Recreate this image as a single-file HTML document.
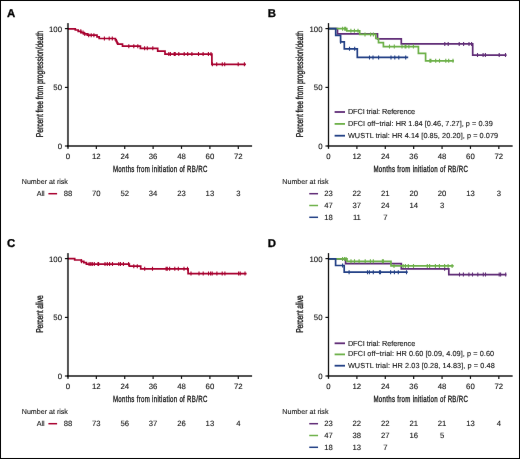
<!DOCTYPE html><html><head><meta charset="utf-8"><style>html,body{margin:0;padding:0;background:#fff;}svg{display:block;will-change:transform;text-rendering:geometricPrecision;}text{stroke:#111;stroke-width:0.1px;}text.c{stroke-width:0.3px;}</style></head><body>
<svg width="520" height="459" viewBox="0 0 520 459" font-family='"Liberation Sans", sans-serif' fill="#111">
<defs><filter id="bl" x="0" y="0" width="520" height="459" filterUnits="userSpaceOnUse" color-interpolation-filters="sRGB"><feConvolveMatrix order="3" kernelMatrix="0.0009 0.0278 0.0009 0.0278 0.8855 0.0278 0.0009 0.0278 0.0009" edgeMode="duplicate"/></filter></defs>
<g filter="url(#bl)">
<rect x="0" y="0" width="520" height="459" fill="#fff"/>
<text x="6.9" y="16.6" font-size="11.4" font-weight="bold" fill="#000" style="stroke:#000;stroke-width:0.3px">A</text>
<text x="267.8" y="16.6" font-size="11.4" font-weight="bold" fill="#000" style="stroke:#000;stroke-width:0.3px">B</text>
<text x="6.9" y="246.6" font-size="11.4" font-weight="bold" fill="#000" style="stroke:#000;stroke-width:0.3px">C</text>
<text x="267.7" y="246.6" font-size="11.4" font-weight="bold" fill="#000" style="stroke:#000;stroke-width:0.3px">D</text>
<line x1="66.95" y1="145.95" x2="252.1" y2="145.95" stroke="#000" stroke-opacity="0.68" stroke-width="2"/>
<line x1="64.9" y1="28.6" x2="67.95" y2="28.6" stroke="#111" stroke-width="1.2"/>
<line x1="64.9" y1="87.4" x2="67.95" y2="87.4" stroke="#111" stroke-width="1.2"/>
<line x1="64.9" y1="146.0" x2="67.95" y2="146.0" stroke="#111" stroke-width="1.2"/>
<line x1="96.34" y1="145.95" x2="96.34" y2="148.9" stroke="#111" stroke-width="1.2"/>
<line x1="124.73" y1="145.95" x2="124.73" y2="148.9" stroke="#111" stroke-width="1.2"/>
<line x1="153.12" y1="145.95" x2="153.12" y2="148.9" stroke="#111" stroke-width="1.2"/>
<line x1="181.51" y1="145.95" x2="181.51" y2="148.9" stroke="#111" stroke-width="1.2"/>
<line x1="209.90" y1="145.95" x2="209.90" y2="148.9" stroke="#111" stroke-width="1.2"/>
<line x1="238.29" y1="145.95" x2="238.29" y2="148.9" stroke="#111" stroke-width="1.2"/>
<text x="62.0" y="31.80" text-anchor="end" font-size="7.8">100</text>
<text x="62.0" y="90.00" text-anchor="end" font-size="7.8">50</text>
<text x="62.0" y="148.60" text-anchor="end" font-size="7.8">0</text>
<text x="67.95" y="158.6" text-anchor="middle" font-size="7.8">0</text>
<text x="96.34" y="158.6" text-anchor="middle" font-size="7.8">12</text>
<text x="124.73" y="158.6" text-anchor="middle" font-size="7.8">24</text>
<text x="153.12" y="158.6" text-anchor="middle" font-size="7.8">36</text>
<text x="181.51" y="158.6" text-anchor="middle" font-size="7.8">48</text>
<text x="209.90" y="158.6" text-anchor="middle" font-size="7.8">60</text>
<text x="238.29" y="158.6" text-anchor="middle" font-size="7.8">72</text>
<text transform="translate(160.1 171.8) scale(0.68 1)" text-anchor="middle" class="c" font-size="9" textLength="138.82" lengthAdjust="spacing">Months from initiation of RB/RC</text>
<text transform="translate(42.6 84.05) rotate(-90) scale(0.68 1)" x="0" y="0" text-anchor="middle" class="c" font-size="10" textLength="156.32" lengthAdjust="spacing">Percent free from progression/death</text>
<text x="21.8" y="184.1" font-size="7.1">Number at risk</text>
<path d="M67.95 28.90H75.30V30.00H78.20V31.30H81.00V32.60H84.00V33.90H87.30V35.20H97.00V36.90H99.20V38.50H115.40V39.90H116.20V41.30H117.00V42.80H117.70V44.20H122.50V46.20H140.40V48.30H157.70V51.20H165.00V54.10H211.90V64.30H245.90" fill="none" stroke="#a8002f" stroke-width="1.7" stroke-linejoin="miter"/>
<path d="M80.80 29.30V33.30M83.00 30.60V34.60M84.80 31.90V35.90M88.70 33.20V37.20M91.20 33.20V37.20M93.90 33.20V37.20M104.40 36.50V40.50M109.20 36.50V40.50M112.30 36.50V40.50M128.80 44.20V48.20M133.80 44.20V48.20M137.80 44.20V48.20M144.60 46.30V50.30M147.30 46.30V50.30M152.80 46.30V50.30M168.80 52.10V56.10M170.40 52.10V56.10M174.20 52.10V56.10M175.20 52.10V56.10M178.80 52.10V56.10M184.20 52.10V56.10M187.70 52.10V56.10M191.90 52.10V56.10M198.50 52.10V56.10M203.10 52.10V56.10M208.40 52.10V56.10M211.00 52.10V56.10M212.40 62.30V66.30M216.70 62.30V66.30M222.30 62.30V66.30M224.70 62.30V66.30M238.20 62.30V66.30M244.40 62.30V66.30" stroke="#a8002f" stroke-width="1.1" fill="none"/>
<text x="36.7" y="196.20" font-size="7.2">All</text>
<line x1="48.4" y1="193.70" x2="57.1" y2="193.70" stroke="#a8002f" stroke-width="1.5"/>
<text x="67.95" y="196.20" text-anchor="middle" font-size="7.7">88</text>
<text x="96.34" y="196.20" text-anchor="middle" font-size="7.7">70</text>
<text x="124.73" y="196.20" text-anchor="middle" font-size="7.7">52</text>
<text x="153.12" y="196.20" text-anchor="middle" font-size="7.7">34</text>
<text x="181.51" y="196.20" text-anchor="middle" font-size="7.7">23</text>
<text x="209.90" y="196.20" text-anchor="middle" font-size="7.7">13</text>
<text x="238.29" y="196.20" text-anchor="middle" font-size="7.7">3</text>
<line x1="327.5" y1="145.95" x2="512.65" y2="145.95" stroke="#000" stroke-opacity="0.68" stroke-width="2"/>
<line x1="325.45000000000005" y1="28.6" x2="328.5" y2="28.6" stroke="#111" stroke-width="1.2"/>
<line x1="325.45000000000005" y1="87.4" x2="328.5" y2="87.4" stroke="#111" stroke-width="1.2"/>
<line x1="325.45000000000005" y1="146.0" x2="328.5" y2="146.0" stroke="#111" stroke-width="1.2"/>
<line x1="356.89" y1="145.95" x2="356.89" y2="148.9" stroke="#111" stroke-width="1.2"/>
<line x1="385.28" y1="145.95" x2="385.28" y2="148.9" stroke="#111" stroke-width="1.2"/>
<line x1="413.67" y1="145.95" x2="413.67" y2="148.9" stroke="#111" stroke-width="1.2"/>
<line x1="442.06" y1="145.95" x2="442.06" y2="148.9" stroke="#111" stroke-width="1.2"/>
<line x1="470.45" y1="145.95" x2="470.45" y2="148.9" stroke="#111" stroke-width="1.2"/>
<line x1="498.84" y1="145.95" x2="498.84" y2="148.9" stroke="#111" stroke-width="1.2"/>
<text x="322.55" y="31.80" text-anchor="end" font-size="7.8">100</text>
<text x="322.55" y="90.00" text-anchor="end" font-size="7.8">50</text>
<text x="322.55" y="148.60" text-anchor="end" font-size="7.8">0</text>
<text x="328.50" y="158.6" text-anchor="middle" font-size="7.8">0</text>
<text x="356.89" y="158.6" text-anchor="middle" font-size="7.8">12</text>
<text x="385.28" y="158.6" text-anchor="middle" font-size="7.8">24</text>
<text x="413.67" y="158.6" text-anchor="middle" font-size="7.8">36</text>
<text x="442.06" y="158.6" text-anchor="middle" font-size="7.8">48</text>
<text x="470.45" y="158.6" text-anchor="middle" font-size="7.8">60</text>
<text x="498.84" y="158.6" text-anchor="middle" font-size="7.8">72</text>
<text transform="translate(420.65 171.8) scale(0.68 1)" text-anchor="middle" class="c" font-size="9" textLength="138.82" lengthAdjust="spacing">Months from initiation of RB/RC</text>
<text transform="translate(303.15000000000003 84.05) rotate(-90) scale(0.68 1)" x="0" y="0" text-anchor="middle" class="c" font-size="10" textLength="156.32" lengthAdjust="spacing">Percent free from progression/death</text>
<text x="282.35" y="184.1" font-size="7.1">Number at risk</text>
<path d="M328.50 28.70H337.50V33.80H377.50V38.85H401.30V43.95H472.70V55.10H506.60" fill="none" stroke="#5f2b76" stroke-width="1.7" stroke-linejoin="miter"/>
<path d="M444.80 41.95V45.95M448.20 41.95V45.95M459.20 41.95V45.95M463.60 41.95V45.95M469.00 41.95V45.95M471.60 41.95V45.95M477.50 53.10V57.10M483.10 53.10V57.10M485.40 53.10V57.10M499.20 53.10V57.10M505.50 53.10V57.10" stroke="#5f2b76" stroke-width="1.1" fill="none"/>
<path d="M328.50 28.70H346.80V30.80H359.70V34.40H375.80V38.50H378.50V42.60H383.40V46.60H418.40V53.40H425.60V60.80H453.90" fill="none" stroke="#6cb048" stroke-width="1.7" stroke-linejoin="miter"/>
<path d="M342.60 26.70V30.70M344.70 26.70V30.70M345.70 26.70V30.70M350.90 28.80V32.80M354.40 28.80V32.80M358.00 28.80V32.80M365.00 32.40V36.40M370.60 32.40V36.40M373.40 32.40V36.40M389.50 44.60V48.60M394.30 44.60V48.60M402.00 44.60V48.60M405.10 44.60V48.60M405.90 44.60V48.60M408.90 44.60V48.60M413.40 44.60V48.60M429.90 58.80V62.80M430.90 58.80V62.80M435.70 58.80V62.80M439.50 58.80V62.80M445.80 58.80V62.80M448.70 58.80V62.80M453.00 58.80V62.80" stroke="#6cb048" stroke-width="1.1" fill="none"/>
<path d="M328.50 28.70H335.70V35.30H340.60V41.80H344.30V48.80H357.30V57.40H408.20" fill="none" stroke="#213f85" stroke-width="1.7" stroke-linejoin="miter"/>
<path d="M340.60 39.80V43.80M349.50 46.80V50.80M354.70 46.80V50.80M369.50 55.40V59.40M373.00 55.40V59.40M378.60 55.40V59.40M391.00 55.40V59.40M394.80 55.40V59.40M398.80 55.40V59.40M405.70 55.40V59.40" stroke="#213f85" stroke-width="1.1" fill="none"/>
<line x1="334.6" y1="112.0" x2="345" y2="112.0" stroke="#5f2b76" stroke-width="1.8"/>
<text x="347.9" y="114.1" font-size="7.3" textLength="67.15" lengthAdjust="spacing">DFCI trial: Reference</text>
<line x1="334.6" y1="123.9" x2="345" y2="123.9" stroke="#6cb048" stroke-width="1.8"/>
<text x="347.9" y="126.0" font-size="7.3" textLength="144.80" lengthAdjust="spacing">DFCI off−trial: HR 1.84 [0.46, 7.27], p = 0.39</text>
<line x1="334.6" y1="135.7" x2="345" y2="135.7" stroke="#213f85" stroke-width="1.8"/>
<text x="347.9" y="137.9" font-size="7.3" textLength="150.22" lengthAdjust="spacing">WUSTL trial: HR 4.14 [0.85, 20.20], p = 0.079</text>
<line x1="309.25" y1="193.70" x2="318.05" y2="193.70" stroke="#5f2b76" stroke-width="1.5"/>
<text x="328.50" y="196.20" text-anchor="middle" font-size="7.7">23</text>
<text x="356.89" y="196.20" text-anchor="middle" font-size="7.7">22</text>
<text x="385.28" y="196.20" text-anchor="middle" font-size="7.7">21</text>
<text x="413.67" y="196.20" text-anchor="middle" font-size="7.7">20</text>
<text x="442.06" y="196.20" text-anchor="middle" font-size="7.7">20</text>
<text x="470.45" y="196.20" text-anchor="middle" font-size="7.7">13</text>
<text x="498.84" y="196.20" text-anchor="middle" font-size="7.7">3</text>
<line x1="309.25" y1="205.50" x2="318.05" y2="205.50" stroke="#6cb048" stroke-width="1.5"/>
<text x="328.50" y="207.90" text-anchor="middle" font-size="7.7">47</text>
<text x="356.89" y="207.90" text-anchor="middle" font-size="7.7">37</text>
<text x="385.28" y="207.90" text-anchor="middle" font-size="7.7">24</text>
<text x="413.67" y="207.90" text-anchor="middle" font-size="7.7">14</text>
<text x="442.06" y="207.90" text-anchor="middle" font-size="7.7">3</text>
<line x1="309.25" y1="217.30" x2="318.05" y2="217.30" stroke="#213f85" stroke-width="1.5"/>
<text x="328.50" y="219.60" text-anchor="middle" font-size="7.7">18</text>
<text x="356.89" y="219.60" text-anchor="middle" font-size="7.7">11</text>
<text x="385.28" y="219.60" text-anchor="middle" font-size="7.7">7</text>
<line x1="66.95" y1="375.95" x2="252.1" y2="375.95" stroke="#000" stroke-opacity="0.68" stroke-width="2"/>
<line x1="64.9" y1="258.6" x2="67.95" y2="258.6" stroke="#111" stroke-width="1.2"/>
<line x1="64.9" y1="317.4" x2="67.95" y2="317.4" stroke="#111" stroke-width="1.2"/>
<line x1="64.9" y1="376.0" x2="67.95" y2="376.0" stroke="#111" stroke-width="1.2"/>
<line x1="96.34" y1="375.95" x2="96.34" y2="378.9" stroke="#111" stroke-width="1.2"/>
<line x1="124.73" y1="375.95" x2="124.73" y2="378.9" stroke="#111" stroke-width="1.2"/>
<line x1="153.12" y1="375.95" x2="153.12" y2="378.9" stroke="#111" stroke-width="1.2"/>
<line x1="181.51" y1="375.95" x2="181.51" y2="378.9" stroke="#111" stroke-width="1.2"/>
<line x1="209.90" y1="375.95" x2="209.90" y2="378.9" stroke="#111" stroke-width="1.2"/>
<line x1="238.29" y1="375.95" x2="238.29" y2="378.9" stroke="#111" stroke-width="1.2"/>
<text x="62.0" y="261.80" text-anchor="end" font-size="7.8">100</text>
<text x="62.0" y="320.00" text-anchor="end" font-size="7.8">50</text>
<text x="62.0" y="378.60" text-anchor="end" font-size="7.8">0</text>
<text x="67.95" y="388.6" text-anchor="middle" font-size="7.8">0</text>
<text x="96.34" y="388.6" text-anchor="middle" font-size="7.8">12</text>
<text x="124.73" y="388.6" text-anchor="middle" font-size="7.8">24</text>
<text x="153.12" y="388.6" text-anchor="middle" font-size="7.8">36</text>
<text x="181.51" y="388.6" text-anchor="middle" font-size="7.8">48</text>
<text x="209.90" y="388.6" text-anchor="middle" font-size="7.8">60</text>
<text x="238.29" y="388.6" text-anchor="middle" font-size="7.8">72</text>
<text transform="translate(160.1 401.8) scale(0.68 1)" text-anchor="middle" class="c" font-size="9" textLength="138.82" lengthAdjust="spacing">Months from initiation of RB/RC</text>
<text transform="translate(42.6 314.05) rotate(-90) scale(0.68 1)" x="0" y="0" text-anchor="middle" class="c" font-size="10" textLength="55.15" lengthAdjust="spacing">Percent alive</text>
<text x="21.8" y="414.1" font-size="7.1">Number at risk</text>
<path d="M67.95 258.70H74.70V260.00H81.30V261.30H83.80V262.60H86.40V264.10H129.30V266.20H140.70V268.80H188.10V273.60H246.60" fill="none" stroke="#a8002f" stroke-width="1.7" stroke-linejoin="miter"/>
<path d="M81.50 259.30V263.30M89.10 262.10V266.10M90.80 262.10V266.10M92.30 262.10V266.10M94.30 262.10V266.10M98.00 262.10V266.10M98.60 262.10V266.10M105.00 262.10V266.10M107.30 262.10V266.10M109.60 262.10V266.10M112.50 262.10V266.10M118.80 262.10V266.10M120.50 262.10V266.10M123.40 262.10V266.10M128.60 262.10V266.10M133.80 264.20V268.20M137.30 264.20V268.20M144.70 266.80V270.80M152.50 266.80V270.80M166.10 266.80V270.80M167.30 266.80V270.80M169.60 266.80V270.80M174.80 266.80V270.80M178.30 266.80V270.80M184.00 266.80V270.80M187.50 266.80V270.80M191.00 271.60V275.60M199.00 271.60V275.60M203.20 271.60V275.60M208.50 271.60V275.60M210.60 271.60V275.60M212.20 271.60V275.60M216.90 271.60V275.60M222.20 271.60V275.60M224.90 271.60V275.60M238.60 271.60V275.60M240.20 271.60V275.60M245.00 271.60V275.60" stroke="#a8002f" stroke-width="1.1" fill="none"/>
<text x="36.7" y="426.20" font-size="7.2">All</text>
<line x1="48.4" y1="423.70" x2="57.1" y2="423.70" stroke="#a8002f" stroke-width="1.5"/>
<text x="67.95" y="426.20" text-anchor="middle" font-size="7.7">88</text>
<text x="96.34" y="426.20" text-anchor="middle" font-size="7.7">73</text>
<text x="124.73" y="426.20" text-anchor="middle" font-size="7.7">56</text>
<text x="153.12" y="426.20" text-anchor="middle" font-size="7.7">37</text>
<text x="181.51" y="426.20" text-anchor="middle" font-size="7.7">26</text>
<text x="209.90" y="426.20" text-anchor="middle" font-size="7.7">13</text>
<text x="238.29" y="426.20" text-anchor="middle" font-size="7.7">4</text>
<line x1="327.5" y1="375.95" x2="512.65" y2="375.95" stroke="#000" stroke-opacity="0.68" stroke-width="2"/>
<line x1="325.45000000000005" y1="258.6" x2="328.5" y2="258.6" stroke="#111" stroke-width="1.2"/>
<line x1="325.45000000000005" y1="317.4" x2="328.5" y2="317.4" stroke="#111" stroke-width="1.2"/>
<line x1="325.45000000000005" y1="376.0" x2="328.5" y2="376.0" stroke="#111" stroke-width="1.2"/>
<line x1="356.89" y1="375.95" x2="356.89" y2="378.9" stroke="#111" stroke-width="1.2"/>
<line x1="385.28" y1="375.95" x2="385.28" y2="378.9" stroke="#111" stroke-width="1.2"/>
<line x1="413.67" y1="375.95" x2="413.67" y2="378.9" stroke="#111" stroke-width="1.2"/>
<line x1="442.06" y1="375.95" x2="442.06" y2="378.9" stroke="#111" stroke-width="1.2"/>
<line x1="470.45" y1="375.95" x2="470.45" y2="378.9" stroke="#111" stroke-width="1.2"/>
<line x1="498.84" y1="375.95" x2="498.84" y2="378.9" stroke="#111" stroke-width="1.2"/>
<text x="322.55" y="261.80" text-anchor="end" font-size="7.8">100</text>
<text x="322.55" y="320.00" text-anchor="end" font-size="7.8">50</text>
<text x="322.55" y="378.60" text-anchor="end" font-size="7.8">0</text>
<text x="328.50" y="388.6" text-anchor="middle" font-size="7.8">0</text>
<text x="356.89" y="388.6" text-anchor="middle" font-size="7.8">12</text>
<text x="385.28" y="388.6" text-anchor="middle" font-size="7.8">24</text>
<text x="413.67" y="388.6" text-anchor="middle" font-size="7.8">36</text>
<text x="442.06" y="388.6" text-anchor="middle" font-size="7.8">48</text>
<text x="470.45" y="388.6" text-anchor="middle" font-size="7.8">60</text>
<text x="498.84" y="388.6" text-anchor="middle" font-size="7.8">72</text>
<text transform="translate(420.65 401.8) scale(0.68 1)" text-anchor="middle" class="c" font-size="9" textLength="138.82" lengthAdjust="spacing">Months from initiation of RB/RC</text>
<text transform="translate(303.15000000000003 314.05) rotate(-90) scale(0.68 1)" x="0" y="0" text-anchor="middle" class="c" font-size="10" textLength="55.15" lengthAdjust="spacing">Percent alive</text>
<text x="282.35" y="414.1" font-size="7.1">Number at risk</text>
<path d="M328.50 258.90H345.60V263.60H401.30V268.80H448.80V274.60H506.40" fill="none" stroke="#5f2b76" stroke-width="1.7" stroke-linejoin="miter"/>
<path d="M444.60 266.80V270.80M459.50 272.60V276.60M463.40 272.60V276.60M468.90 272.60V276.60M472.50 272.60V276.60M477.80 272.60V276.60M483.30 272.60V276.60M485.50 272.60V276.60M499.20 272.60V276.60M500.60 272.60V276.60M505.70 272.60V276.60" stroke="#5f2b76" stroke-width="1.1" fill="none"/>
<path d="M328.50 258.90H347.00V261.30H391.00V265.90H453.70" fill="none" stroke="#6cb048" stroke-width="1.7" stroke-linejoin="miter"/>
<path d="M342.60 256.90V260.90M344.60 256.90V260.90M346.10 256.90V260.90M351.00 259.30V263.30M354.50 259.30V263.30M359.10 259.30V263.30M365.20 259.30V263.30M370.40 259.30V263.30M373.30 259.30V263.30M382.40 259.30V263.30M383.40 259.30V263.30M394.00 263.90V267.90M403.10 263.90V267.90M405.40 263.90V267.90M408.30 263.90V267.90M413.50 263.90V267.90M427.30 263.90V267.90M429.60 263.90V267.90M435.40 263.90V267.90M439.40 263.90V267.90M444.60 263.90V267.90M448.10 263.90V267.90M452.10 263.90V267.90" stroke="#6cb048" stroke-width="1.1" fill="none"/>
<path d="M328.50 258.90H335.60V265.50H344.20V272.20H407.70" fill="none" stroke="#213f85" stroke-width="1.7" stroke-linejoin="miter"/>
<path d="M342.60 263.50V267.50M349.10 270.20V274.20M367.50 270.20V274.20M369.40 270.20V274.20M373.30 270.20V274.20M379.50 270.20V274.20M380.50 270.20V274.20M390.60 270.20V274.20M394.40 270.20V274.20M398.30 270.20V274.20M406.50 270.20V274.20" stroke="#213f85" stroke-width="1.1" fill="none"/>
<line x1="334.6" y1="343.3" x2="345" y2="343.3" stroke="#5f2b76" stroke-width="1.8"/>
<text x="347.9" y="345.6" font-size="7.3" textLength="67.35" lengthAdjust="spacing">DFCI trial: Reference</text>
<line x1="334.6" y1="354.4" x2="345" y2="354.4" stroke="#6cb048" stroke-width="1.8"/>
<text x="347.9" y="356.4" font-size="7.3" textLength="146.20" lengthAdjust="spacing">DFCI off−trial: HR 0.60 [0.09, 4.09], p = 0.60</text>
<line x1="334.6" y1="365.7" x2="345" y2="365.7" stroke="#213f85" stroke-width="1.8"/>
<text x="347.9" y="367.9" font-size="7.3" textLength="146.86" lengthAdjust="spacing">WUSTL trial: HR 2.03 [0.28, 14.83], p = 0.48</text>
<line x1="309.25" y1="423.70" x2="318.05" y2="423.70" stroke="#5f2b76" stroke-width="1.5"/>
<text x="328.50" y="426.20" text-anchor="middle" font-size="7.7">23</text>
<text x="356.89" y="426.20" text-anchor="middle" font-size="7.7">22</text>
<text x="385.28" y="426.20" text-anchor="middle" font-size="7.7">22</text>
<text x="413.67" y="426.20" text-anchor="middle" font-size="7.7">21</text>
<text x="442.06" y="426.20" text-anchor="middle" font-size="7.7">21</text>
<text x="470.45" y="426.20" text-anchor="middle" font-size="7.7">13</text>
<text x="498.84" y="426.20" text-anchor="middle" font-size="7.7">4</text>
<line x1="309.25" y1="435.50" x2="318.05" y2="435.50" stroke="#6cb048" stroke-width="1.5"/>
<text x="328.50" y="437.90" text-anchor="middle" font-size="7.7">47</text>
<text x="356.89" y="437.90" text-anchor="middle" font-size="7.7">38</text>
<text x="385.28" y="437.90" text-anchor="middle" font-size="7.7">27</text>
<text x="413.67" y="437.90" text-anchor="middle" font-size="7.7">16</text>
<text x="442.06" y="437.90" text-anchor="middle" font-size="7.7">5</text>
<line x1="309.25" y1="447.30" x2="318.05" y2="447.30" stroke="#213f85" stroke-width="1.5"/>
<text x="328.50" y="449.60" text-anchor="middle" font-size="7.7">18</text>
<text x="356.89" y="449.60" text-anchor="middle" font-size="7.7">13</text>
<text x="385.28" y="449.60" text-anchor="middle" font-size="7.7">7</text>
<line x1="67.95" y1="23.1" x2="67.95" y2="148.8" stroke="#000" stroke-opacity="0.68" stroke-width="2.0"/>
<line x1="328.5" y1="23.1" x2="328.5" y2="148.8" stroke="#111" stroke-opacity="1" stroke-width="1.3"/>
<line x1="67.95" y1="253.1" x2="67.95" y2="378.8" stroke="#000" stroke-opacity="0.68" stroke-width="2.0"/>
<line x1="328.5" y1="253.1" x2="328.5" y2="378.8" stroke="#111" stroke-opacity="1" stroke-width="1.3"/>
<rect x="0.5" y="0.5" width="519" height="458" fill="none" stroke="#000" stroke-width="1"/>
</g></svg></body></html>
